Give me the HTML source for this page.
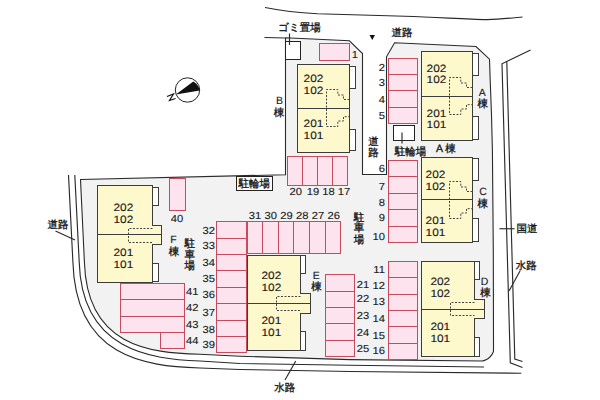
<!DOCTYPE html>
<html><head><meta charset="utf-8">
<style>
html,body{margin:0;padding:0;background:#fff;}
svg{display:block;}
.rd{fill:none;stroke:#2a2a2a;stroke-width:1.15;}
.lot{fill:#f2f2f2;stroke:#2a2a2a;stroke-width:1.1;}
.pk{fill:#fde3ed;stroke:#c84a5e;stroke-width:1;}
.pkl{stroke:#c84a5e;stroke-width:1;}
.bd{fill:#fef8cd;stroke:#3c3c3c;stroke-width:1;}
.bdl{stroke:#3c3c3c;stroke-width:1;}
.tab{fill:#fff;stroke:#3c3c3c;stroke-width:1;}
.tab2{fill:#fff;stroke:#222;stroke-width:1;}
.dash{fill:none;stroke:#444;stroke-width:1;stroke-dasharray:2 1.5;}
.t,.j{text-rendering:geometricPrecision;font-family:"Liberation Sans",sans-serif;fill:#1a1a1a;stroke:#1a1a1a;stroke-width:0.12;}
.j{stroke-width:0.35;}
</style></head>
<body><svg width="600" height="400" viewBox="0 0 600 400">
<rect width="600" height="400" fill="#fff"/>
<path d="M265,7.5 C280,10.5 300,12.8 317.5,13.75 L405,16.25 C440,17.3 470,19.8 487.5,19.6 C500,19.4 512,18 522.5,17" class="rd"/>
<path d="M264.5,37.5 L285,38" class="rd"/>
<path d="M74.8,175 L79.2,262 C81.81,350.5 150.5,359.2 200,361 L240,363.5 L350,365.3 L484,367" class="rd"/>
<path d="M68.5,175 L72.9,262 C75.71,357.3 144.5,366.2 200,368 L240,369.5 L350,371.5 L521.3,373.3" class="rd"/>
<path d="M530.5,50 L502,63.8 L510.3,362.8 L522.5,367.5" class="rd"/>
<path d="M506.8,61.6 L514.8,359 L522.5,361.5" class="rd"/>
<path d="M285.5,37.8 L349.4,40.8 L362.5,53.6 L362.5,174.5 L386.5,174.5 L386.5,56.8 L394.6,42.7 L476,46.5 L489.5,59.2 L490.2,80 L491.5,115 L492.4,150 L493.3,250 L493.5,340 L493.5,351.5 Q491,357.5 486,359.8 Q484,361 482,361 L350,359.6 L240,356.2 L200,354.2 C149,353 86.87,346 84.4,262 L80.5,179.5 L285.5,174.7 Z" class="lot"/>
<rect x="319.5" y="43.5" width="30.0" height="17.0" class="pk"/>
<rect x="388.5" y="58.5" width="29.0" height="65.0" class="pk"/>
<line x1="388.5" y1="74.5" x2="417.5" y2="74.5" class="pkl"/>
<line x1="388.5" y1="90.5" x2="417.5" y2="90.5" class="pkl"/>
<line x1="388.5" y1="107.5" x2="417.5" y2="107.5" class="pkl"/>
<rect x="388.5" y="160.5" width="29.0" height="82.0" class="pk"/>
<line x1="388.5" y1="176.5" x2="417.5" y2="176.5" class="pkl"/>
<line x1="388.5" y1="193.5" x2="417.5" y2="193.5" class="pkl"/>
<line x1="388.5" y1="209.5" x2="417.5" y2="209.5" class="pkl"/>
<line x1="388.5" y1="226.5" x2="417.5" y2="226.5" class="pkl"/>
<rect x="388.5" y="261.5" width="29.0" height="98.0" class="pk"/>
<line x1="388.5" y1="277.5" x2="417.5" y2="277.5" class="pkl"/>
<line x1="388.5" y1="294.5" x2="417.5" y2="294.5" class="pkl"/>
<line x1="388.5" y1="310.5" x2="417.5" y2="310.5" class="pkl"/>
<line x1="388.5" y1="326.5" x2="417.5" y2="326.5" class="pkl"/>
<line x1="388.5" y1="343.5" x2="417.5" y2="343.5" class="pkl"/>
<rect x="287.5" y="156.5" width="60.0" height="29.0" class="pk"/>
<line x1="302.5" y1="156.5" x2="302.5" y2="185.5" class="pkl"/>
<line x1="317.5" y1="156.5" x2="317.5" y2="185.5" class="pkl"/>
<line x1="332.5" y1="156.5" x2="332.5" y2="185.5" class="pkl"/>
<rect x="325.5" y="274.5" width="29.0" height="82.0" class="pk"/>
<line x1="325.5" y1="291.5" x2="354.5" y2="291.5" class="pkl"/>
<line x1="325.5" y1="307.5" x2="354.5" y2="307.5" class="pkl"/>
<line x1="325.5" y1="323.5" x2="354.5" y2="323.5" class="pkl"/>
<line x1="325.5" y1="340.5" x2="354.5" y2="340.5" class="pkl"/>
<rect x="247.5" y="221.5" width="93.0" height="32.0" class="pk"/>
<line x1="262.5" y1="221.5" x2="262.5" y2="253.5" class="pkl"/>
<line x1="278.5" y1="221.5" x2="278.5" y2="253.5" class="pkl"/>
<line x1="293.5" y1="221.5" x2="293.5" y2="253.5" class="pkl"/>
<line x1="309.5" y1="221.5" x2="309.5" y2="253.5" class="pkl"/>
<line x1="325.5" y1="221.5" x2="325.5" y2="253.5" class="pkl"/>
<rect x="216.5" y="221.5" width="30.0" height="131.0" class="pk"/>
<line x1="216.5" y1="238.5" x2="246.5" y2="238.5" class="pkl"/>
<line x1="216.5" y1="254.5" x2="246.5" y2="254.5" class="pkl"/>
<line x1="216.5" y1="270.5" x2="246.5" y2="270.5" class="pkl"/>
<line x1="216.5" y1="287.5" x2="246.5" y2="287.5" class="pkl"/>
<line x1="216.5" y1="303.5" x2="246.5" y2="303.5" class="pkl"/>
<line x1="216.5" y1="320.5" x2="246.5" y2="320.5" class="pkl"/>
<line x1="216.5" y1="336.5" x2="246.5" y2="336.5" class="pkl"/>
<rect x="169.5" y="178.5" width="16.0" height="32.0" class="pk"/>
<rect x="120.5" y="283.5" width="64.0" height="49.0" class="pk"/>
<line x1="120.5" y1="299.5" x2="184.5" y2="299.5" class="pkl"/>
<line x1="120.5" y1="316.5" x2="184.5" y2="316.5" class="pkl"/>
<rect x="160.5" y="332.5" width="24.0" height="16.0" class="pk"/>
<rect x="472.5" y="53.5" width="6.0" height="22.0" class="tab"/>
<rect x="472.5" y="116.5" width="6.0" height="23.0" class="tab"/>
<rect x="421.5" y="51.5" width="51.0" height="89.0" class="bd"/>
<line x1="421.5" y1="96.5" x2="472.5" y2="96.5" class="bdl"/>
<path d="M472.5,87.5 L466.5,87.5 L466.5,83.0 L460.8,83.0 L460.8,77.5 L449.5,77.5 L449.5,114.5 L460.8,114.5 L460.8,109.0 L466.5,109.0 L466.5,104.7 L472.5,104.7" class="dash"/>
<rect x="349.5" y="66.5" width="6.0" height="22.0" class="tab"/>
<rect x="349.5" y="129.5" width="6.0" height="21.0" class="tab"/>
<rect x="297.5" y="64.5" width="52.0" height="88.0" class="bd"/>
<line x1="297.5" y1="108.5" x2="349.5" y2="108.5" class="bdl"/>
<path d="M349.5,99.5 L343.5,99.5 L343.5,95.0 L337.8,95.0 L337.8,89.5 L326.5,89.5 L326.5,126.5 L337.8,126.5 L337.8,121.0 L343.5,121.0 L343.5,116.7 L349.5,116.7" class="dash"/>
<rect x="472.5" y="158.5" width="6.0" height="22.0" class="tab"/>
<rect x="472.5" y="218.5" width="6.0" height="23.0" class="tab"/>
<rect x="421.5" y="157.5" width="51.0" height="85.0" class="bd"/>
<line x1="421.5" y1="199.5" x2="472.5" y2="199.5" class="bdl"/>
<path d="M472.5,191.5 L466.5,191.5 L466.5,187.0 L460.8,187.0 L460.8,181.5 L449.5,181.5 L449.5,218.5 L460.8,218.5 L460.8,213.0 L466.5,213.0 L466.5,208.7 L472.5,208.7" class="dash"/>
<rect x="474.5" y="299.5" width="10.0" height="19.0" class="bd"/>
<rect x="474.5" y="261.5" width="5.0" height="18.0" class="tab"/>
<rect x="474.5" y="337.5" width="5.0" height="19.0" class="tab"/>
<rect x="421.5" y="261.5" width="53.0" height="95.0" class="bd"/>
<rect x="474.0" y="300.0" width="1.5" height="18.0" fill="#fef8cd"/>
<line x1="421.5" y1="309.5" x2="484.5" y2="309.5" class="bdl"/>
<path d="M474.5,302.5 L450.5,302.5 L450.5,315.5 L474.5,315.5" class="dash"/>
<rect x="300.5" y="293.5" width="10.0" height="20.0" class="bd"/>
<rect x="300.5" y="255.5" width="5.0" height="18.0" class="tab"/>
<rect x="300.5" y="331.5" width="5.0" height="19.0" class="tab"/>
<rect x="247.5" y="255.5" width="53.0" height="95.0" class="bd"/>
<rect x="300.0" y="294.0" width="1.5" height="19.0" fill="#fef8cd"/>
<line x1="247.5" y1="303.5" x2="310.5" y2="303.5" class="bdl"/>
<path d="M300.5,296.5 L276.5,296.5 L276.5,310.5 L300.5,310.5" class="dash"/>
<rect x="152.5" y="225.5" width="9.0" height="19.0" class="bd"/>
<rect x="152.5" y="187.5" width="6.0" height="18.0" class="tab"/>
<rect x="152.5" y="263.5" width="6.0" height="18.0" class="tab"/>
<rect x="97.5" y="185.5" width="55.0" height="97.0" class="bd"/>
<rect x="152.0" y="226.0" width="1.5" height="18.0" fill="#fef8cd"/>
<line x1="97.5" y1="234.5" x2="161.5" y2="234.5" class="bdl"/>
<path d="M152.5,228.5 L128.5,228.5 L128.5,242.5 L152.5,242.5" class="dash"/>
<rect x="285.5" y="41.5" width="15.0" height="18.0" class="tab2"/>
<path d="M289.5,33.5 L289.5,45" class="rd"/>
<rect x="393.5" y="125.5" width="21.0" height="15.0" class="tab2"/>
<line x1="402" y1="132.5" x2="402" y2="143.5" class="rd"/>
<rect x="236.5" y="176.5" width="36.0" height="14.0" class="tab2"/>
<text transform="translate(426.6,71.6) scale(1.12,1)" text-anchor="start" font-size="10.6" class="t">202</text>
<text transform="translate(426.6,83.3) scale(1.12,1)" text-anchor="start" font-size="10.6" class="t">102</text>
<text transform="translate(426.6,116.9) scale(1.12,1)" text-anchor="start" font-size="10.6" class="t">201</text>
<text transform="translate(426.6,128.1) scale(1.12,1)" text-anchor="start" font-size="10.6" class="t">101</text>
<text transform="translate(303.6,82) scale(1.12,1)" text-anchor="start" font-size="10.6" class="t">202</text>
<text transform="translate(303.6,94) scale(1.12,1)" text-anchor="start" font-size="10.6" class="t">102</text>
<text transform="translate(303.6,127.4) scale(1.12,1)" text-anchor="start" font-size="10.6" class="t">201</text>
<text transform="translate(303.6,139.4) scale(1.12,1)" text-anchor="start" font-size="10.6" class="t">101</text>
<text transform="translate(425.6,178.4) scale(1.12,1)" text-anchor="start" font-size="10.6" class="t">202</text>
<text transform="translate(425.6,190.4) scale(1.12,1)" text-anchor="start" font-size="10.6" class="t">102</text>
<text transform="translate(425.6,223.9) scale(1.12,1)" text-anchor="start" font-size="10.6" class="t">201</text>
<text transform="translate(425.6,235.5) scale(1.12,1)" text-anchor="start" font-size="10.6" class="t">101</text>
<text transform="translate(430.4,284.75) scale(1.12,1)" text-anchor="start" font-size="10.6" class="t">202</text>
<text transform="translate(430.4,296.75) scale(1.12,1)" text-anchor="start" font-size="10.6" class="t">102</text>
<text transform="translate(430.4,330.4) scale(1.12,1)" text-anchor="start" font-size="10.6" class="t">201</text>
<text transform="translate(430.4,342) scale(1.12,1)" text-anchor="start" font-size="10.6" class="t">101</text>
<text transform="translate(261.5,278.75) scale(1.12,1)" text-anchor="start" font-size="10.6" class="t">202</text>
<text transform="translate(261.5,290.75) scale(1.12,1)" text-anchor="start" font-size="10.6" class="t">102</text>
<text transform="translate(261.5,324.4) scale(1.12,1)" text-anchor="start" font-size="10.6" class="t">201</text>
<text transform="translate(261.5,336.4) scale(1.12,1)" text-anchor="start" font-size="10.6" class="t">101</text>
<text transform="translate(113.5,210.75) scale(1.12,1)" text-anchor="start" font-size="10.6" class="t">202</text>
<text transform="translate(113.5,222.75) scale(1.12,1)" text-anchor="start" font-size="10.6" class="t">102</text>
<text transform="translate(113.5,255.75) scale(1.12,1)" text-anchor="start" font-size="10.6" class="t">201</text>
<text transform="translate(113.5,267.75) scale(1.12,1)" text-anchor="start" font-size="10.6" class="t">101</text>
<text transform="translate(351.8,58.4) scale(1.1,1)" text-anchor="start" font-size="10.2" class="t">1</text>
<text transform="translate(385,70.6) scale(1.1,1)" text-anchor="end" font-size="10.2" class="t">2</text>
<text transform="translate(385,86.3) scale(1.1,1)" text-anchor="end" font-size="10.2" class="t">3</text>
<text transform="translate(385,102.8) scale(1.1,1)" text-anchor="end" font-size="10.2" class="t">4</text>
<text transform="translate(385,118.8) scale(1.1,1)" text-anchor="end" font-size="10.2" class="t">5</text>
<text transform="translate(385,172) scale(1.1,1)" text-anchor="end" font-size="10.2" class="t">6</text>
<text transform="translate(385,189.5) scale(1.1,1)" text-anchor="end" font-size="10.2" class="t">7</text>
<text transform="translate(385,205.6) scale(1.1,1)" text-anchor="end" font-size="10.2" class="t">8</text>
<text transform="translate(385,221) scale(1.1,1)" text-anchor="end" font-size="10.2" class="t">9</text>
<text transform="translate(385,239.5) scale(1.1,1)" text-anchor="end" font-size="10.2" class="t">10</text>
<text transform="translate(385,273) scale(1.1,1)" text-anchor="end" font-size="10.2" class="t">11</text>
<text transform="translate(385,289.3) scale(1.1,1)" text-anchor="end" font-size="10.2" class="t">12</text>
<text transform="translate(385,305.3) scale(1.1,1)" text-anchor="end" font-size="10.2" class="t">13</text>
<text transform="translate(385,321.8) scale(1.1,1)" text-anchor="end" font-size="10.2" class="t">14</text>
<text transform="translate(385,338.6) scale(1.1,1)" text-anchor="end" font-size="10.2" class="t">15</text>
<text transform="translate(385,353.7) scale(1.1,1)" text-anchor="end" font-size="10.2" class="t">16</text>
<text transform="translate(289.5,194.8) scale(1.1,1)" text-anchor="start" font-size="10.2" class="t">20</text>
<text transform="translate(306.7,194.8) scale(1.1,1)" text-anchor="start" font-size="10.2" class="t">19</text>
<text transform="translate(322.2,194.8) scale(1.1,1)" text-anchor="start" font-size="10.2" class="t">18</text>
<text transform="translate(337.7,194.8) scale(1.1,1)" text-anchor="start" font-size="10.2" class="t">17</text>
<text transform="translate(356.8,287.5) scale(1.1,1)" text-anchor="start" font-size="10.2" class="t">21</text>
<text transform="translate(356.8,302) scale(1.1,1)" text-anchor="start" font-size="10.2" class="t">22</text>
<text transform="translate(356.8,319) scale(1.1,1)" text-anchor="start" font-size="10.2" class="t">23</text>
<text transform="translate(356.8,336) scale(1.1,1)" text-anchor="start" font-size="10.2" class="t">24</text>
<text transform="translate(356.8,351.7) scale(1.1,1)" text-anchor="start" font-size="10.2" class="t">25</text>
<text transform="translate(248.75,218.8) scale(1.1,1)" text-anchor="start" font-size="10.2" class="t">31</text>
<text transform="translate(264.5,218.8) scale(1.1,1)" text-anchor="start" font-size="10.2" class="t">30</text>
<text transform="translate(280.3,218.8) scale(1.1,1)" text-anchor="start" font-size="10.2" class="t">29</text>
<text transform="translate(296,218.8) scale(1.1,1)" text-anchor="start" font-size="10.2" class="t">28</text>
<text transform="translate(311.8,218.8) scale(1.1,1)" text-anchor="start" font-size="10.2" class="t">27</text>
<text transform="translate(327.5,218.8) scale(1.1,1)" text-anchor="start" font-size="10.2" class="t">26</text>
<text transform="translate(215,233.9) scale(1.1,1)" text-anchor="end" font-size="10.2" class="t">32</text>
<text transform="translate(215,249.2) scale(1.1,1)" text-anchor="end" font-size="10.2" class="t">33</text>
<text transform="translate(215,265.8) scale(1.1,1)" text-anchor="end" font-size="10.2" class="t">34</text>
<text transform="translate(215,282) scale(1.1,1)" text-anchor="end" font-size="10.2" class="t">35</text>
<text transform="translate(215,297.8) scale(1.1,1)" text-anchor="end" font-size="10.2" class="t">36</text>
<text transform="translate(215,316) scale(1.1,1)" text-anchor="end" font-size="10.2" class="t">37</text>
<text transform="translate(215,333.3) scale(1.1,1)" text-anchor="end" font-size="10.2" class="t">38</text>
<text transform="translate(215,348.3) scale(1.1,1)" text-anchor="end" font-size="10.2" class="t">39</text>
<text transform="translate(170.7,221.6) scale(1.1,1)" text-anchor="start" font-size="10.2" class="t">40</text>
<text transform="translate(186,294.9) scale(1.1,1)" text-anchor="start" font-size="10.2" class="t">41</text>
<text transform="translate(186,311.3) scale(1.1,1)" text-anchor="start" font-size="10.2" class="t">42</text>
<text transform="translate(186,328) scale(1.1,1)" text-anchor="start" font-size="10.2" class="t">43</text>
<text transform="translate(186,344) scale(1.1,1)" text-anchor="start" font-size="10.2" class="t">44</text>
<text x="278.2" y="31" text-anchor="start" font-size="10.5" class="j">ゴミ置場</text>
<text x="391.5" y="35.8" text-anchor="start" font-size="10.5" class="j">道路</text>
<path d="M369.5,35 L375,35 L372.25,40 Z" fill="#111"/>
<text x="279.4" y="104" text-anchor="middle" font-size="10.5" class="t">B</text>
<text x="279" y="115.5" text-anchor="middle" font-size="10.5" class="j">棟</text>
<text x="373.4" y="144.6" text-anchor="middle" font-size="10.5" class="j">道</text>
<text x="373.4" y="155.9" text-anchor="middle" font-size="10.5" class="j">路</text>
<text x="394.8" y="155.2" text-anchor="start" font-size="10.5" class="j">駐輪場</text>
<text x="436" y="151.8" text-anchor="start" font-size="10.5" class="j">A 棟</text>
<text x="482.2" y="95.6" text-anchor="middle" font-size="10.5" class="t">A</text>
<text x="482.7" y="106.8" text-anchor="middle" font-size="10.5" class="j">棟</text>
<text x="483" y="195" text-anchor="middle" font-size="10.5" class="t">C</text>
<text x="482.7" y="207.1" text-anchor="middle" font-size="10.5" class="j">棟</text>
<text x="484.5" y="285" text-anchor="middle" font-size="10.5" class="t">D</text>
<text x="485.4" y="296.2" text-anchor="middle" font-size="10.5" class="j">棟</text>
<text x="316.3" y="279" text-anchor="middle" font-size="10.5" class="t">E</text>
<text x="316.5" y="289.8" text-anchor="middle" font-size="10.5" class="j">棟</text>
<text x="173.5" y="243.3" text-anchor="middle" font-size="10.5" class="t">F</text>
<text x="174" y="254.5" text-anchor="middle" font-size="10.5" class="j">棟</text>
<text x="359.1" y="220.8" text-anchor="middle" font-size="10.5" class="j">駐</text>
<text x="359.1" y="230.8" text-anchor="middle" font-size="10.5" class="j">車</text>
<text x="359.1" y="242.5" text-anchor="middle" font-size="10.5" class="j">場</text>
<text x="189.7" y="246.7" text-anchor="middle" font-size="10.5" class="j">駐</text>
<text x="189.7" y="257.5" text-anchor="middle" font-size="10.5" class="j">車</text>
<text x="189.7" y="268.5" text-anchor="middle" font-size="10.5" class="j">場</text>
<text x="238.6" y="187.1" text-anchor="start" font-size="10.5" class="j">駐輪場</text>
<text x="47.5" y="227.75" text-anchor="start" font-size="10.5" class="j">道路</text>
<line x1="55.5" y1="231" x2="75" y2="240" class="rd"/>
<text x="516.6" y="231.75" text-anchor="start" font-size="10.5" class="j">国道</text>
<line x1="499.5" y1="228.75" x2="514.5" y2="228.75" class="rd"/>
<text x="515.8" y="269.2" text-anchor="start" font-size="10.5" class="j">水路</text>
<line x1="520" y1="271" x2="509" y2="291" class="rd"/>
<text x="274.3" y="390.75" text-anchor="start" font-size="10.5" class="j">水路</text>
<line x1="295.75" y1="361" x2="285" y2="380" class="rd"/>
<circle cx="187.5" cy="90" r="12.2" fill="#fff" stroke="#222" stroke-width="1"/>
<path d="M175.8,94.6 L193.3,81.6 A12.2,12.2 0 0 1 199.7,90.6 Z" fill="#111"/>
<path d="M167,96.5 L173.5,94 L169.5,100.5 L175.5,98.5" fill="none" stroke="#111" stroke-width="1.2"/>
</svg></body></html>
